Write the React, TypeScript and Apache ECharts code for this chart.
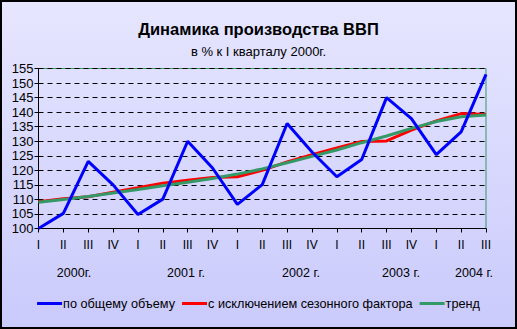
import React, { useEffect, useRef } from "react";
import * as echarts from "echarts";

const quarters = ["I","II","III","IV","I","II","III","IV","I","II","III","IV","I","II","III","IV","I","II","III"];
const total = [100, 105.2, 123.1, 115, 104.8, 110.1, 130, 120.8, 108.3, 115.1, 136.1, 126.3, 117.8, 123.7, 145, 137.8, 125.4, 133.2, 153];
const seasonal = [109.2, 110.2, 110.9, 112.5, 114.0, 115.6, 116.6, 117.5, 117.8, 120.0, 122.9, 125.4, 127.7, 129.9, 130.1, 133.8, 137.0, 139.5, 139.2];
const trend = [109.0, 110.0, 111.0, 112.2, 113.4, 114.7, 115.9, 117.2, 118.7, 120.5, 122.6, 124.8, 127.0, 129.5, 131.8, 134.4, 136.8, 138.4, 139.0];
const yearLabels = ["2000г.", "2001 г.", "2002 г.", "2003 г.", "2004 г."];
const yearX = [74, 186, 301, 401, 474];
const seriesNames = ["по общему объему", "с исключением сезонного фактора", "тренд"];

const FONT = "'Liberation Sans', Arial, sans-serif";

export default function App() {
  const ref = useRef<HTMLDivElement>(null);
  useEffect(() => {
    document.body.style.margin = "0";
    const chart = echarts.init(ref.current!, null, { renderer: "svg" });
    chart.setOption({
      animation: false,
      backgroundColor: new echarts.graphic.LinearGradient(0, 0, 0, 1, [
        { offset: 0, color: "#E6E6FF" },
        { offset: 1, color: "#CACAFC" },
      ]),
      textStyle: { fontFamily: FONT },
      title: {
        text: "Динамика производства ВВП",
        subtext: "в % к I кварталу 2000г.",
        left: "center",
        top: 15,
        itemGap: 8,
        textStyle: { fontFamily: FONT, fontSize: 16.5, fontWeight: "bold", color: "#000" },
        subtextStyle: { fontFamily: FONT, fontSize: 13, color: "#000" },
      },
      legend: {
        bottom: 14,
        left: "center",
        icon: "rect",
        itemWidth: 25,
        itemHeight: 3,
        itemGap: 7,
        textStyle: { fontFamily: FONT, fontSize: 12.7, color: "#000", padding: [0, 0, 0, -4] },
        data: seriesNames,
      },
      grid: {
        left: 38.5,
        right: 31,
        top: 68.5,
        height: 160,
        show: true,
        borderColor: "#339966",
        borderWidth: 1,
        backgroundColor: "transparent",
      },
      xAxis: {
        type: "category",
        data: quarters,
        boundaryGap: false,
        axisLine: { lineStyle: { color: "#000", width: 1 } },
        axisTick: { show: true, length: 4, lineStyle: { color: "#000" }, alignWithLabel: true },
        axisLabel: { fontFamily: FONT, fontSize: 12, color: "#000", margin: 10, interval: 0 },
        splitLine: { show: false },
      },
      yAxis: {
        type: "value",
        min: 100,
        max: 155,
        interval: 5,
        axisLine: { show: true, lineStyle: { color: "#000", width: 1 } },
        axisTick: { show: true, length: 4, lineStyle: { color: "#000" } },
        axisLabel: { fontFamily: FONT, fontSize: 13, color: "#000", margin: 5 },
        splitLine: { show: true, lineStyle: { color: "#000", type: [5, 4], width: 1 } },
      },
      graphic: [
        ...yearLabels.map((t, i) => ({
          type: "text",
          x: yearX[i],
          y: 273,
          style: { text: t, fontFamily: FONT, fontSize: 12.5, fill: "#000", align: "center", verticalAlign: "middle" },
        })),
        {
          type: "rect",
          shape: { x: 1, y: 1, width: 515, height: 327 },
          style: { fill: "none", stroke: "#000", lineWidth: 2 },
          silent: true,
        },
      ],
      series: [
        {
          name: seriesNames[0], type: "line", data: total, symbol: "none",
          lineStyle: { color: "#0000FF", width: 3 }, itemStyle: { color: "#0000FF" }, z: 4,
        },
        {
          name: seriesNames[1], type: "line", data: seasonal, symbol: "none",
          lineStyle: { color: "#FF0000", width: 3 }, itemStyle: { color: "#FF0000" }, z: 2,
        },
        {
          name: seriesNames[2], type: "line", data: trend, symbol: "none",
          lineStyle: { color: "#339966", width: 3 }, itemStyle: { color: "#339966" }, z: 3,
        },
      ],
    });
    return () => chart.dispose();
  }, []);
  return <div ref={ref} style={{ width: 517, height: 329 }} />;
}
